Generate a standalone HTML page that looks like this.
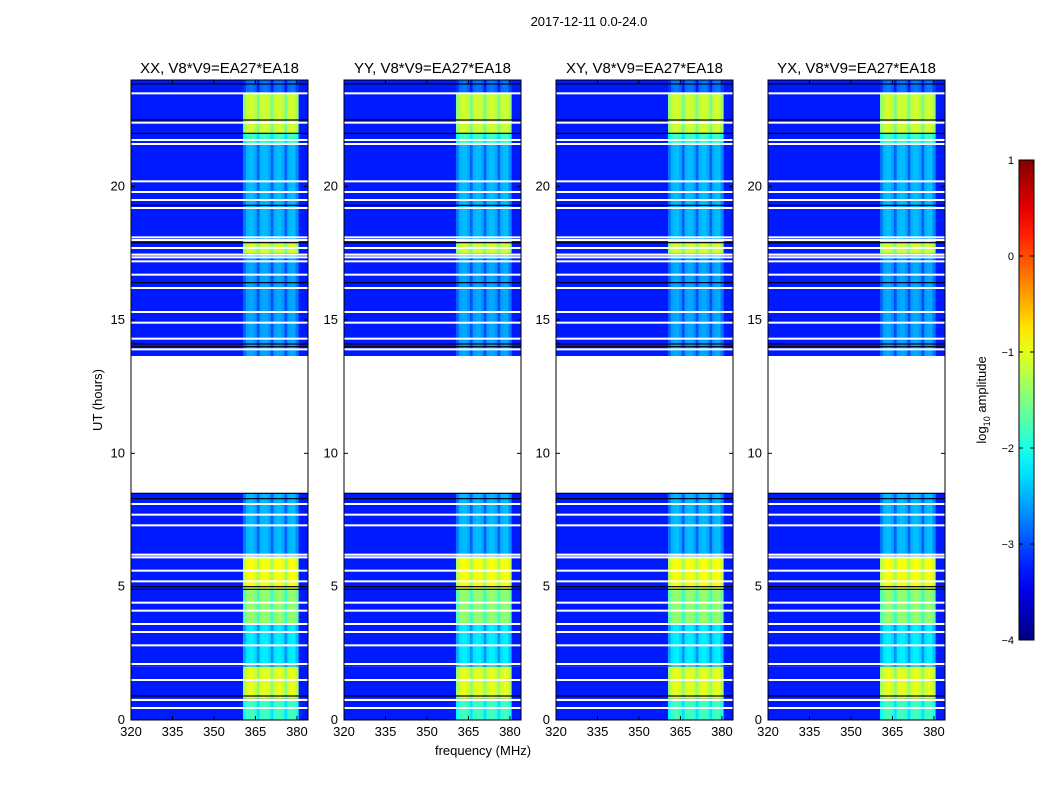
<!DOCTYPE html>
<html><head><meta charset="utf-8"><style>
body{margin:0;background:#fff;width:1050px;height:800px;overflow:hidden;font-family:"Liberation Sans",sans-serif}
#wrap{position:relative;width:1050px;height:800px}
</style></head><body>
<div id="wrap">
<svg id="svg" width="1050" height="800" style="position:absolute;left:0;top:0"></svg>
</div>
<script>
// ---- data ----
const panelTitles = ["XX, V8*V9=EA27*EA18","YY, V8*V9=EA27*EA18","XY, V8*V9=EA27*EA18","YX, V8*V9=EA27*EA18"];
const freqTicks = [320,335,350,365,380];
const timeTicks = [0,5,10,15,20];
const cbarTicks = [1,0,-1,-2,-3,-4];
const backgroundLevel = -3.25;
// band gain per 1-MHz channel starting at 360.5 MHz
const bandStart = 360.5;
const bandGain = [-0.35,-0.05,0,0,-0.1,-0.45,-0.05,0,0,-0.1,-0.45,-0.05,0,0,-0.1,-0.45,-0.05,0,0,-0.25];
// time segments: [startHour, endHour, bandLevel] (null = no data)
const segStart = [0,0.8,2.0,3.6,4.9,6.1,8.5,13.65,17.5,18.0,21.6,22.0,23.5];
const segEnd   = [0.8,2.0,3.6,4.9,6.1,8.5,13.65,17.5,18.0,21.6,22.0,23.5,24];
const segLevel = [-1.8,-1.0,-2.2,-1.4,-0.9,-2.45,null,-2.55,-1.1,-2.45,-1.8,-1.1,-2.8];
// flagged (white) rows, hours
const whiteRows = [0.45,0.75,1.5,2.1,2.8,3.3,3.6,4.1,4.4,5.2,5.6,6.1,6.2,7.3,7.7,8.1,13.9,14.3,14.9,15.3,16.2,16.7,17.2,17.35,17.45,17.7,18.0,18.1,19.2,19.5,19.8,20.2,21.6,21.75,22.4,23.5];
// dark (black) rows, hours
const blackRows = [0.9,4.9,5.0,8.3,8.5,14.0,14.1,16.4,17.9,19.3,22.0,22.5,23.85];

// ---- layout ----
const panelX = [131,344,556,768];
const PW = 177, PT = 80, PB = 720;
const fMin = 320, fMax = 384;
const xScale = (p,f)=> panelX[p] + (f-fMin)/(fMax-fMin)*PW;
const yScale = h => PB - h/24*(PB-PT);
const svg = document.getElementById('svg');
const NS = "http://www.w3.org/2000/svg";
function jet(v){
  let t = Math.max(0,Math.min(1,(v+4)/5));
  let r = Math.max(0,Math.min(1,1.5-Math.abs(4*t-3)));
  let g = Math.max(0,Math.min(1,1.5-Math.abs(4*t-2)));
  let b = Math.max(0,Math.min(1,1.5-Math.abs(4*t-1)));
  return `rgb(${Math.round(r*255)},${Math.round(g*255)},${Math.round(b*255)})`;
}
function el(tag,attrs,parent){const e=document.createElementNS(NS,tag);for(const k in attrs)e.setAttribute(k,attrs[k]);(parent||svg).appendChild(e);return e;}
function txt(x,y,s,size,anchor,extra){const t=el('text',Object.assign({x:x,y:y,'font-size':size,'text-anchor':anchor||'middle','font-family':'Liberation Sans, sans-serif',fill:'#000'},extra||{}));t.textContent=s;return t;}

for(let p=0;p<4;p++){
  const g = el('g',{});
  
  
  for(let s=0;s<segStart.length;s++){
    const y0=yScale(segEnd[s]), y1=yScale(segStart[s]);
    if(segLevel[s]===null) continue;
    const bg=el('rect',{x:panelX[p],y:y0,width:PW,height:y1-y0,fill:jet(backgroundLevel)},g);
    
    
    for(let c=0;c<bandGain.length;c++){
      const f=bandStart+c;
      const r=el('rect',{x:xScale(p,f),y:y0,width:xScale(p,f+1)-xScale(p,f)+0.3,height:y1-y0,fill:jet(segLevel[s]+bandGain[c])},g);
      
      
    }
  }
  for(const h of whiteRows){
    const r=el('rect',{x:panelX[p],y:yScale(h)-1,width:PW,height:2,fill:'#fff'},g);
    
    
  }
  for(const h of blackRows){
    const r=el('rect',{x:panelX[p],y:yScale(h)-0.6,width:PW,height:1.2,fill:'#000020'},g);
    
    
  }
  const fr=el('rect',{x:panelX[p],y:PT,width:PW,height:PB-PT,fill:'none',stroke:'#000','stroke-width':1},g);
  
  
  for(const f of freqTicks){
    const x=xScale(p,f);
    el('line',{x1:x,x2:x,y1:PB,y2:PB-4,stroke:'#000'},g);
    el('line',{x1:x,x2:x,y1:PT,y2:PT+4,stroke:'#000'},g);
    const t=txt(x,PB+16,String(f),13);
    
    
  }
  for(const h of timeTicks){
    const y=yScale(h);
    el('line',{x1:panelX[p],x2:panelX[p]+4,y1:y,y2:y,stroke:'#000'},g);
    el('line',{x1:panelX[p]+PW,x2:panelX[p]+PW-4,y1:y,y2:y,stroke:'#000'},g);
    const t=txt(panelX[p]-6,y+4,String(h),13,'end');
    
    
  }
  const pt=txt(panelX[p]+PW/2,73,panelTitles[p],15);
  
  
}
const mt=txt(589,26,"2017-12-11 0.0-24.0",13);


const xl=txt(483,755,"frequency (MHz)",13);


const yl=txt(0,0,"UT (hours)",13,'middle',{transform:'translate(102,400) rotate(-90)'});



const defs=el('defs',{});
const lg=el('linearGradient',{id:'jetgrad',x1:0,y1:1,x2:0,y2:0},defs);
for(let i=0;i<=20;i++){el('stop',{offset:i/20,'stop-color':jet(-4+5*i/20)},lg);}
const cb=el('rect',{x:1019,y:160,width:15,height:480,fill:'url(#jetgrad)',stroke:'#000','stroke-width':1});


for(const v of cbarTicks){
  const y=640-(v+4)/5*480;
  el('line',{x1:1019,x2:1023,y1:y,y2:y,stroke:'#000'});
  el('line',{x1:1034,x2:1030,y1:y,y2:y,stroke:'#000'});
  const t=txt(1014,y+4,(v<0?'\u2212':'')+Math.abs(v),11,'end');
  
  
}
const cl=el('text',{x:0,y:0,'font-size':13,'text-anchor':'middle','font-family':'Liberation Sans, sans-serif',transform:'translate(986,400) rotate(-90)'});
cl.innerHTML='log<tspan font-size="9" dy="4">10</tspan><tspan dy="-4"> amplitude</tspan>';


</script>
</body></html>
